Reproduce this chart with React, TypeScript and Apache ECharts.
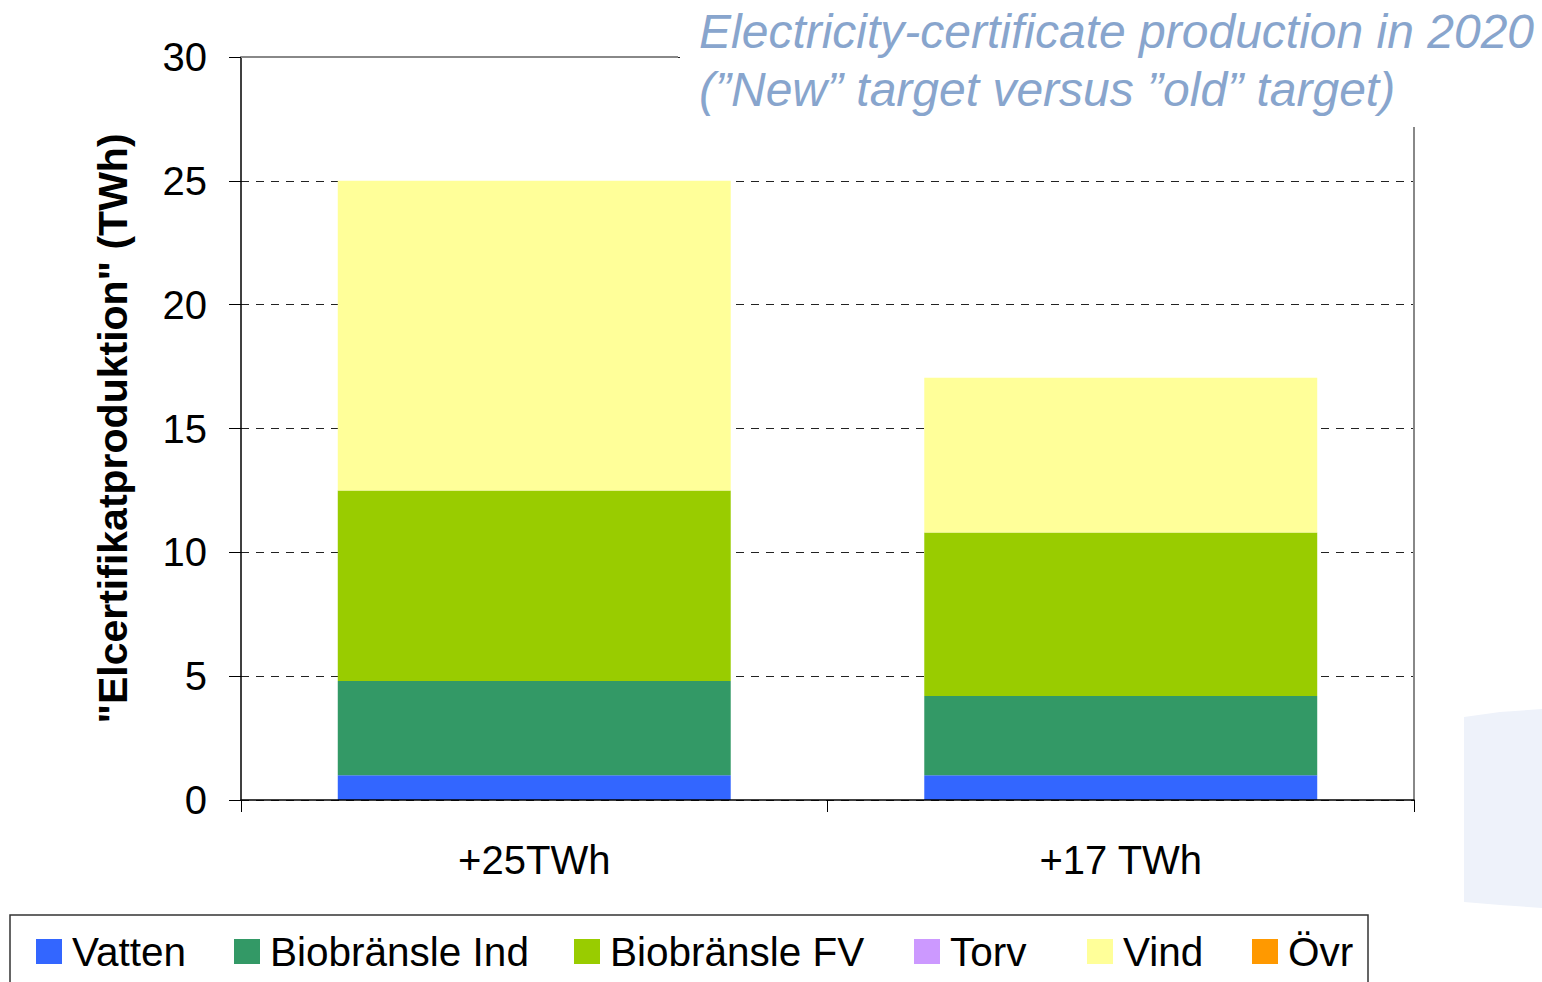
import React, { useEffect, useRef } from "react";
import * as echarts from "echarts";

const categories = ["+25TWh", "+17 TWh"];
const seriesNames = ["Vatten", "Biobränsle Ind", "Biobränsle FV", "Torv", "Vind", "Övr"];
const seriesColors = ["#3366FF", "#339966", "#99CC00", "#CC99FF", "#FFFF99", "#FF9900"];
const vatten = [1.0, 1.0];
const biobransleInd = [3.8, 3.2];
const biobransleFV = [7.7, 6.6];
const torv = [0, 0];
const vind = [12.5, 6.25];
const ovr = [0, 0];
const seriesValues = [vatten, biobransleInd, biobransleFV, torv, vind, ovr];
const yTicks = [0, 5, 10, 15, 20, 25, 30];
const titleLines = ["Electricity-certificate production in 2020", "(\u201DNew\u201D target versus \u201Dold\u201D target)"];
const yAxisTitle = "\"Elcertifikatproduktion\" (TWh)";

// layout: left edge of each legend marker (px)
const legendLefts = [36, 234, 574, 914, 1087, 1252];

export default function App() {
  const ref = useRef<HTMLDivElement>(null);
  useEffect(() => {
    if (!ref.current) return;
    const chart = echarts.init(ref.current, null, { renderer: "svg" });
    const font = "'Liberation Sans', Arial, sans-serif";
    chart.setOption({
      animation: false,
      backgroundColor: "#ffffff",
      title: {
        text: titleLines.join("\n"),
        left: 699,
        top: 2,
        padding: 0,
        z: 10,
        textStyle: {
          fontFamily: font,
          fontStyle: "italic",
          fontWeight: "normal",
          fontSize: 48,
          lineHeight: 58,
          color: "#88A5CD",
        },
      },
      grid: { left: 241, right: 128, top: 57, bottom: 182, containLabel: false },
      xAxis: {
        type: "category",
        data: categories,
        boundaryGap: true,
        axisLine: { show: true, lineStyle: { color: "#000", width: 1.5 } },
        axisTick: { show: true, length: 12, lineStyle: { color: "#000", width: 1 } },
        axisLabel: { fontFamily: font, fontSize: 40, color: "#000", margin: 40 },
        splitLine: { show: false },
        z: 5,
      },
      yAxis: {
        type: "value",
        min: yTicks[0],
        max: yTicks[yTicks.length - 1],
        interval: 5,
        name: yAxisTitle,
        nameLocation: "middle",
        nameRotate: 90,
        nameGap: 108,
        nameTextStyle: { fontFamily: font, fontWeight: "bold", fontSize: 41, color: "#000" },
        axisLine: { show: true, lineStyle: { color: "#000", width: 1.5 } },
        axisTick: { show: true, length: 12, lineStyle: { color: "#000", width: 1 } },
        axisLabel: { fontFamily: font, fontSize: 40, color: "#000", margin: 34 },
        splitLine: { show: true, lineStyle: { color: "#222", width: 1, type: [8, 7] } },
      },
      legend: seriesNames.map((name, i) => ({
        data: [name],
        left: legendLefts[i],
        top: 931,
        padding: 0,
        itemWidth: 26,
        itemHeight: 25,
        icon: "rect",
        selectedMode: false,
        textStyle: {
          fontFamily: font,
          fontSize: 40.5,
          lineHeight: 25,
          color: "#000",
          padding: [0, 0, 6, 5],
        },
      })),
      series: seriesNames.map((name, i) => ({
        name,
        type: "bar",
        stack: "total",
        data: seriesValues[i],
        barCategoryGap: "33%",
        itemStyle: { color: seriesColors[i] },
      })),
      graphic: [
        {
          type: "rect",
          shape: { x: 680, y: 52, width: 745, height: 10 },
          style: { fill: "#ffffff" },
          z: 3,
        },
        {
          type: "line",
          shape: { x1: 241, y1: 57, x2: 678, y2: 57 },
          style: { stroke: "#888888", lineWidth: 2 },
          z: 4,
        },
        {
          type: "line",
          shape: { x1: 1414, y1: 127, x2: 1414, y2: 800 },
          style: { stroke: "#888888", lineWidth: 2 },
          z: 4,
        },
        {
          type: "rect",
          shape: { x: 10, y: 915, width: 1358, height: 120 },
          style: { fill: "none", stroke: "#333333", lineWidth: 1.5 },
          z: 4,
        },
        {
          type: "polygon",
          shape: {
            points: [
              [1464, 717],
              [1500, 712],
              [1542, 709],
              [1542, 908],
              [1500, 905],
              [1464, 902],
            ],
          },
          style: { fill: "#EEF2FA" },
          z: 0,
        },
      ],
    });
    return () => chart.dispose();
  }, []);
  return (
    <div
      ref={ref}
      style={{ position: "fixed", left: 0, top: 0, width: 1542, height: 982 }}
    />
  );
}
